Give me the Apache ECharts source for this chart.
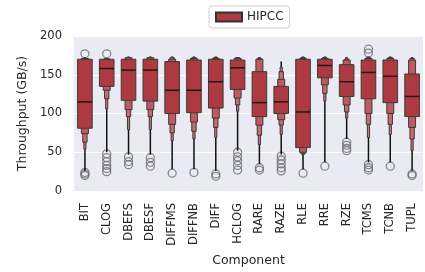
<!DOCTYPE html>
<html>
<head>
<meta charset="utf-8">
<script src="https://cdn.jsdelivr.net/npm/echarts@6/dist/echarts.min.js"></script>
<style>
  html, body { margin: 0; padding: 0; background: #fff; }
  #chart { width: 425px; height: 272px; }
</style>
</head>
<body>
<div id="chart"></div>
<script>
const categories = ['BIT', 'CLOG', 'DBEFS', 'DBESF', 'DIFFMS', 'DIFFNB', 'DIFF', 'HCLOG',
  'RARE', 'RAZE', 'RLE', 'RRE', 'RZE', 'TCMS', 'TCNB', 'TUPL']
const medians = [115, 158, 156, 156, 130, 130, 141, 159, 114, 115, 102, 162, 141, 153, 148, 122]
// letter-value box edges, widest box first
const lowerLevels = [
  [81, 74, 63, 54], [135, 130, 119, 106], [117, 105, 96, 79], [116, 105, 96, 79],
  [100, 86, 75, 65], [101, 89, 77, 67], [107, 94, 82, 69], [131, 120, 111, 103],
  [96, 85, 72, 60], [100, 92, 85, 73], [56, 50, 48, 47], [146, 137, 126, 116],
  [122, 111, 102, 94], [119, 100, 86, 69], [114, 100, 86, 73], [96, 82, 67, 52]
]
const upperLevels = [
  [170, 171, 171, 172], [170, 170, 171, 171], [170, 172, 172, 173], [170, 172, 172, 173],
  [167, 170, 172, 173], [169, 171, 172, 173], [170, 171, 172, 173], [169, 171, 172, 172],
  [154, 170, 171, 172], [135, 144, 154, 160], [170, 171, 172, 173], [170, 171, 172, 173],
  [163, 169, 170, 172], [169, 171, 172, 173], [169, 171, 172, 173], [151, 169, 171, 172]
]
const whiskerLow = [26, 50, 47, 47, 28, 28, 26, 52, 35, 47, 28, 37, 67, 37, 37, 26]
const whiskerHigh = [172, 171, 173, 173, 173, 173, 173, 172, 173, 167, 173, 173, 173, 173, 173, 173]
const outliers = [
  [177, 24, 22, 20], [177, 48, 43, 38, 33, 29, 25], [44, 38, 34], [43, 37, 32],
  [23], [24], [22, 19], [50, 44, 39, 33, 27],
  [30, 27], [45, 40, 35, 30, 26], [23], [32],
  [63, 59, 55, 52], [183, 178, 34, 30, 27], [32], [22, 20]
]

const levelWidths = [0.67, 0.32, 0.2, 0.1]
const levelColors = ['#ad3a40', '#c05a60', '#c86a6f', '#cf7a7e']
const font = 'DejaVu Sans'

const chart = echarts.init(document.getElementById('chart'))

const outlierData = []
outliers.forEach((list, i) => list.forEach(v => outlierData.push([i, v])))

const option = {
  animation: false,
  legend: {
    data: ['HIPCC'],
    left: 209,
    top: 6,
    icon: 'rect',
    itemWidth: 26,
    itemHeight: 9,
    itemGap: 5,
    padding: [5, 6],
    backgroundColor: '#fff',
    borderColor: '#d0d0d0',
    borderWidth: 1,
    borderRadius: 3,
    textStyle: { fontFamily: font, fontSize: 12, color: '#262626' }
  },
  grid: {
    left: 74, right: 2, top: 36, bottom: 81,
    show: true, backgroundColor: '#eaeaf2', borderWidth: 0
  },
  xAxis: {
    type: 'category',
    data: categories,
    name: 'Component',
    nameLocation: 'middle',
    nameGap: 63,
    nameTextStyle: { fontFamily: font, fontSize: 12.5, color: '#262626' },
    axisLine: { show: false },
    axisTick: { show: false },
    axisLabel: { rotate: 90, margin: 12, fontFamily: font, fontSize: 11.5, color: '#262626', interval: 0 }
  },
  yAxis: {
    type: 'value',
    min: 0,
    max: 200,
    interval: 50,
    name: 'Throughput (GB/s)',
    nameLocation: 'middle',
    nameGap: 43,
    nameTextStyle: { fontFamily: font, fontSize: 12.5, color: '#262626' },
    axisLine: { show: false },
    axisTick: { show: false },
    axisLabel: { margin: 12, fontFamily: font, fontSize: 11.5, color: '#262626' },
    splitLine: { lineStyle: { color: '#fff', width: 1 } }
  },
  series: [
    {
      name: 'HIPCC',
      type: 'custom',
      itemStyle: { color: levelColors[0], borderColor: '#333', borderWidth: 1 },
      data: categories.map((c, i) => [i, medians[i]]),
      encode: { x: 0, y: 1 },
      renderItem: function (params, api) {
        const i = params.dataIndex
        const band = api.size([1, 0])[0]
        const cx = api.coord([i, 0])[0]
        const y = v => api.coord([i, v])[1]
        const children = [{
          type: 'line',
          shape: { x1: cx, y1: y(whiskerLow[i]), x2: cx, y2: y(whiskerHigh[i]) },
          style: { stroke: '#111', lineWidth: 1.5 }
        }]
        for (let k = levelWidths.length - 1; k >= 0; k--) {
          const w = band * levelWidths[k]
          const top = y(upperLevels[i][k])
          const bot = y(lowerLevels[i][k])
          children.push({
            type: 'rect',
            shape: { x: cx - w / 2, y: top, width: w, height: bot - top },
            style: { fill: levelColors[k], stroke: '#3a3a3a', lineWidth: 1 }
          })
        }
        const mw = band * levelWidths[0]
        children.push({
          type: 'line',
          shape: { x1: cx - mw / 2, y1: y(medians[i]), x2: cx + mw / 2, y2: y(medians[i]) },
          style: { stroke: '#2a1416', lineWidth: 1.5 }
        })
        return { type: 'group', children: children }
      }
    },
    {
      name: 'outliers',
      type: 'scatter',
      data: outlierData,
      symbol: 'circle',
      symbolSize: 8,
      itemStyle: { color: 'rgba(0,0,0,0)', borderColor: '#6e6e6e', borderWidth: 1.3 },
      z: 1
    }
  ]
}
chart.setOption(option)
</script>
</body>
</html>
